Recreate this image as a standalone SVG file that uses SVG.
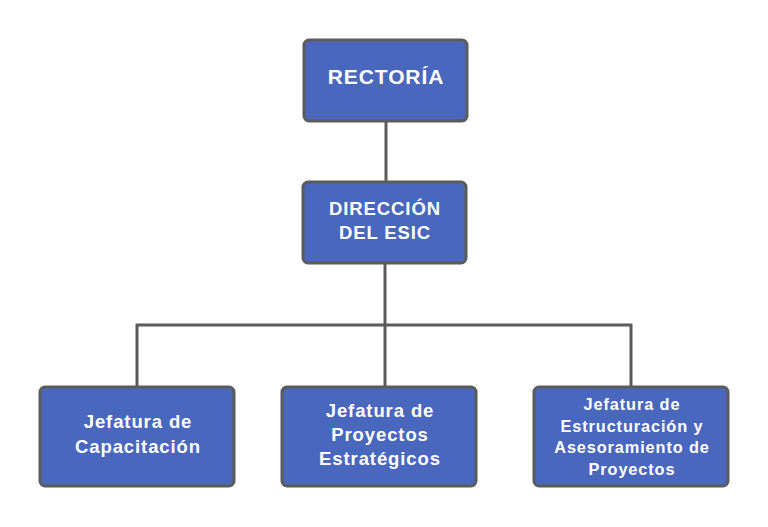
<svg xmlns="http://www.w3.org/2000/svg" width="768" height="527" viewBox="0 0 768 527">
<style>
.box{fill:#4a67be;stroke:#5b5b5b;stroke-width:3}
.t{font-family:"Liberation Sans",Arial,sans-serif;font-weight:bold;fill:#ffffff;text-anchor:middle;letter-spacing:0.9px}
.ln{stroke:#5b5b5b;stroke-width:3;fill:none}
</style>
<rect width="768" height="527" fill="#ffffff"/>
<g id="connectors">
<line class="ln" x1="386" y1="121" x2="386" y2="182"/>
<line class="ln" x1="385" y1="263" x2="385" y2="387"/>
<polyline class="ln" points="137,387 137,325 631,325 631,387"/>
</g>
<g id="rectoria">
<rect class="box" x="304" y="40" width="163" height="81" rx="5"/>
<text class="t" x="386" y="84" font-size="21">RECTORÍA</text>
</g>
<g id="direccion">
<rect class="box" x="303" y="182" width="163" height="81" rx="5"/>
<text class="t" x="385" y="215" font-size="18.5">DIRECCIÓN</text>
<text class="t" x="385" y="239" font-size="18.5">DEL ESIC</text>
</g>
<g id="capacitacion">
<rect class="box" x="40" y="387" width="194" height="99" rx="5"/>
<text class="t" x="138" y="428" font-size="18.5">Jefatura de</text>
<text class="t" x="138" y="453" font-size="18.5">Capacitación</text>
</g>
<g id="proyectos">
<rect class="box" x="282" y="387" width="194" height="99" rx="5"/>
<text class="t" x="380" y="417" font-size="18.5">Jefatura de</text>
<text class="t" x="380" y="441" font-size="18.5">Proyectos</text>
<text class="t" x="380" y="465" font-size="18.5">Estratégicos</text>
</g>
<g id="estructuracion">
<rect class="box" x="534" y="387" width="194" height="99" rx="5"/>
<text class="t" x="632" y="410" font-size="16.3">Jefatura de</text>
<text class="t" x="632" y="431.5" font-size="16.3">Estructuración y</text>
<text class="t" x="632" y="453" font-size="16.3">Asesoramiento de</text>
<text class="t" x="632" y="474.5" font-size="16.3">Proyectos</text>
</g>
</svg>
